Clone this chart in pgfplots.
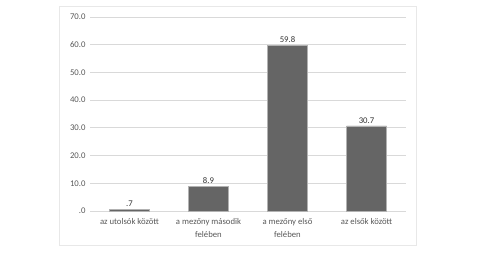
\documentclass[border=0pt]{standalone}
\usepackage{pgfplots}
\pgfplotsset{compat=1.18}
\usepackage{fontspec}
\setmainfont{Carlito}
\definecolor{barc}{HTML}{656565}
\definecolor{gridc}{HTML}{D9D9D9}
\definecolor{txt}{HTML}{595959}
\begin{document}
\begin{tikzpicture}
\path[use as bounding box,fill=white] (0pt,0pt) rectangle (478pt,255pt);
\draw[gridc!60,line width=0.6pt] (59pt,10pt) rectangle (416pt,249pt);
\begin{axis}[
  at={(90pt,44pt)}, anchor=south west,
  scale only axis, width=316pt, height=194pt,
  xmin=-0.5, xmax=3.5, ymin=0, ymax=70,
  ytick={0,10,...,70},
  yticklabels={.0,10.0,20.0,30.0,40.0,50.0,60.0,70.0},
  xtick={0,1,2,3},
  xticklabels={az utolsók között, a mezőny második\\felében, a mezőny első\\felében, az elsők között},
  xticklabel style={align=center, font=\fontsize{8.7}{13}\selectfont, text=txt, yshift=-4pt},
  yticklabel style={font=\fontsize{8.7}{10}\selectfont, text=txt, xshift=-1pt},
  axis line style={draw=none},
  ymajorgrids, grid style={gridc, line width=0.8pt},
  major tick length=0pt,
  ybar, bar width=40pt,
  nodes near coords,
  point meta=explicit symbolic,
  every node near coord/.append style={font=\fontsize{8.7}{10}\selectfont, text=black!80, yshift=-1pt},
  clip=false,
]
\addplot[fill=barc, draw=gray!60] table[meta=lab] {
x y lab
0 0.7 .7
1 8.9 8.9
2 59.8 59.8
3 30.7 30.7
};
\end{axis}
\end{tikzpicture}
\end{document}
